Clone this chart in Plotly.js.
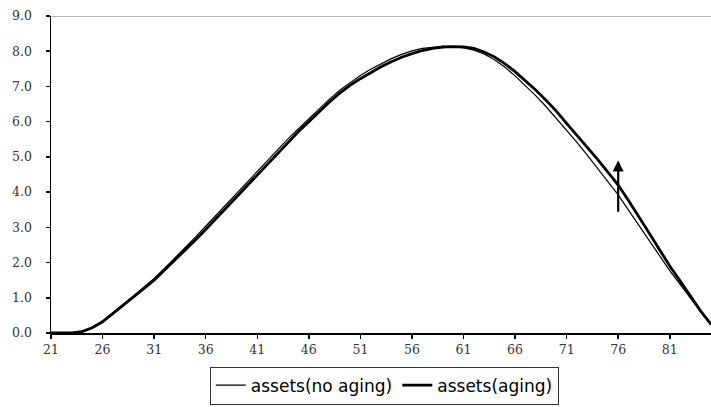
<!DOCTYPE html>
<html>
<head>
<meta charset="utf-8">
<script src="https://cdn.plot.ly/plotly-3.0.1.min.js"></script>
<style>
html,body{margin:0;padding:0;background:#fff;}
#chart{width:711px;height:407px;}
</style>
</head>
<body>
<div id="chart"></div>
<script>
// Ages 21..85
const ages = [21,22,23,24,25,26,27,28,29,30,31,32,33,34,35,36,37,38,39,40,
  41,42,43,44,45,46,47,48,49,50,51,52,53,54,55,56,57,58,59,60,
  61,62,63,64,65,66,67,68,69,70,71,72,73,74,75,76,77,78,79,80,
  81,82,83,84,85];

const assetsNoAging = [0,0,0,0.05,0.16,0.34,0.57,0.81,1.05,1.30,
  1.55,1.83,2.12,2.42,2.72,3.03,3.34,3.66,3.98,4.28,
  4.58,4.89,5.20,5.52,5.80,6.08,6.37,6.64,6.89,7.11,
  7.31,7.49,7.65,7.79,7.91,8.01,8.08,8.12,8.14,8.13,
  8.10,8.03,7.92,7.76,7.55,7.30,7.03,6.74,6.43,6.10,
  5.76,5.41,5.05,4.68,4.30,3.92,3.49,3.06,2.63,2.20,
  1.77,1.38,0.99,0.60,0.22];

const assetsAging = [0,0,0,0.04,0.15,0.32,0.55,0.78,1.02,1.26,
  1.50,1.78,2.06,2.35,2.64,2.94,3.25,3.56,3.88,4.18,
  4.48,4.80,5.12,5.44,5.72,6.00,6.29,6.56,6.81,7.03,
  7.22,7.40,7.56,7.70,7.83,7.93,8.02,8.08,8.12,8.13,
  8.12,8.08,7.98,7.84,7.65,7.42,7.17,6.90,6.61,6.30,
  5.95,5.62,5.28,4.93,4.57,4.20,3.76,3.31,2.84,2.37,
  1.90,1.48,1.05,0.62,0.25];

const seriesNames = ['assets(no aging)', 'assets(aging)'];

// Arrow annotation (age, from value, to value)
const arrowAge = 76;
const arrowFrom = 3.4;
const arrowTo = 4.9;

const traces = [
  {x: ages, y: assetsNoAging, name: seriesNames[0], type: 'scatter', mode: 'lines',
   line: {color: '#000', width: 1.2}},
  {x: ages, y: assetsAging, name: seriesNames[1], type: 'scatter', mode: 'lines',
   line: {color: '#000', width: 2.8}}
];

const layout = {
  width: 711, height: 407,
  margin: {l: 51, r: 0, t: 16, b: 74, autoexpand: false},
  paper_bgcolor: '#fff', plot_bgcolor: '#fff',
  showlegend: true,
  legend: {
    orientation: 'h', x: 0.505, xanchor: 'center', y: -0.106, yanchor: 'top',
    bordercolor: '#333', borderwidth: 1, bgcolor: '#fff',
    font: {family: 'DejaVu Sans, sans-serif', size: 17, color: '#000'},
    itemwidth: 30, tracegroupgap: 0
  },
  xaxis: {
    range: [21, 85], tick0: 21, dtick: 5, tickmode: 'linear',
    showgrid: false, zeroline: false,
    showline: true, linecolor: '#000', linewidth: 1.5,
    ticks: 'outside', ticklen: 4, tickcolor: '#000', tickwidth: 1.5,
    tickfont: {family: 'DejaVu Serif, serif', size: 12.5, color: '#333'},
    fixedrange: true, automargin: false
  },
  yaxis: {
    range: [0, 9], tick0: 0, dtick: 1, tickmode: 'linear', tickformat: '.1f',
    showgrid: false, zeroline: false,
    showline: true, linecolor: '#000', linewidth: 1.5,
    ticks: 'outside', ticklen: 4, tickcolor: '#000', tickwidth: 1.5,
    ticklabelstandoff: 11,
    tickfont: {family: 'DejaVu Serif, serif', size: 12.5, color: '#333'},
    fixedrange: true, automargin: false
  },
  shapes: [
    {type: 'line', xref: 'paper', yref: 'y', x0: 0, x1: 1, y0: 9, y1: 9,
     line: {color: '#999', width: 1.5}}
  ],
  annotations: [
    {x: arrowAge, y: arrowTo, ax: arrowAge, ay: arrowFrom, xref: 'x', yref: 'y',
     axref: 'x', ayref: 'y', showarrow: true, arrowhead: 2, arrowsize: 1,
     arrowwidth: 2.2, arrowcolor: '#000', text: ''}
  ]
};

Plotly.newPlot('chart', traces, layout, {displayModeBar: false, staticPlot: true});
</script>
</body>
</html>
